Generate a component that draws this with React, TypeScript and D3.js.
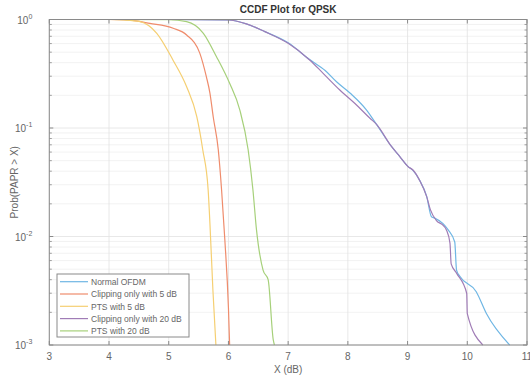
import { useRef, useEffect } from 'react'
import * as d3 from 'd3'

const W = 530
const H = 381
const MARGIN = { top: 19.5, right: 3, bottom: 36, left: 49.3 }

// curves (x in dB, y = probability)
const normalX = [4, 5, 6, 6.3, 6.61, 7.0, 7.36, 7.62, 7.81, 8.04, 8.31, 8.48, 8.73, 8.87, 9.01, 9.09, 9.2, 9.32, 9.4, 9.45, 9.59, 9.68, 9.79, 9.82, 9.875, 10.15, 10.32, 10.71]
const normalY = [1, 1, 0.989, 0.912, 0.773, 0.61, 0.427, 0.339, 0.267, 0.209, 0.147, 0.108, 0.0676, 0.0545, 0.044, 0.0407, 0.0331, 0.0234, 0.0152, 0.0148, 0.0132, 0.0115, 0.0089, 0.0049, 0.0043, 0.0031, 0.00195, 0.001]

const clip5X = [4, 4.3, 4.685, 5.075, 5.3, 5.52, 5.63, 5.69, 5.745, 5.83, 5.885, 5.94, 6.0, 6.02]
const clip5Y = [1, 0.99, 0.92, 0.83, 0.72, 0.49, 0.297, 0.21, 0.127, 0.063, 0.027, 0.0093, 0.0022, 0.001]

const pts5X = [4, 4.25, 4.52, 4.8, 5.07, 5.3, 5.47, 5.57, 5.66, 5.69, 5.74, 5.79]
const pts5Y = [1, 0.99, 0.955, 0.746, 0.424, 0.24, 0.127, 0.063, 0.027, 0.0132, 0.0032, 0.001]

const clip20X = [4, 5, 6, 6.3, 6.61, 7.0, 7.36, 7.586, 7.865, 8.145, 8.37, 8.48, 8.73, 8.87, 9.01, 9.09, 9.2, 9.32, 9.38, 9.48, 9.6, 9.65, 9.71, 9.73, 9.82, 9.99, 10.0, 10.26]
const clip20Y = [1, 1, 0.989, 0.912, 0.773, 0.603, 0.424, 0.319, 0.224, 0.163, 0.123, 0.108, 0.0676, 0.0545, 0.044, 0.041, 0.0331, 0.0233, 0.0178, 0.0141, 0.0126, 0.0115, 0.0087, 0.0056, 0.0046, 0.003, 0.00195, 0.001]

const pts20X = [4, 5.0, 5.3, 5.58, 5.8, 6.02, 6.19, 6.33, 6.41, 6.47, 6.58, 6.665, 6.75, 6.77]
const pts20Y = [1, 0.995, 0.955, 0.746, 0.454, 0.258, 0.147, 0.063, 0.027, 0.0115, 0.0049, 0.004, 0.00112, 0.001]

const seriesNames = ['Normal OFDM', 'Clipping only with 5 dB', 'PTS with 5 dB', 'Clipping only with 20 dB', 'PTS with 20 dB']
const seriesColors = ['#6fb6e4', '#ef8c6c', '#f5cf72', '#a07cb6', '#a6d07a']
const seriesX = [normalX, clip5X, pts5X, clip20X, pts20X]
const seriesY = [normalY, clip5Y, pts5Y, clip20Y, pts20Y]

const xTicks = [3, 4, 5, 6, 7, 8, 9, 10, 11]
const yDecades = [0, -1, -2, -3]

const FONT = 'Liberation Sans, Arial, Helvetica, sans-serif'

export default function App() {
  const svgRef = useRef<SVGSVGElement>(null)

  useEffect(() => {
    if (!svgRef.current) return
    const iw = W - MARGIN.left - MARGIN.right
    const ih = H - MARGIN.top - MARGIN.bottom
    const x = d3.scaleLinear().domain([3, 11]).range([0, iw])
    const y = d3.scaleLog().domain([1e-3, 1]).range([ih, 0])

    const svg = d3.select(svgRef.current)
    svg.selectAll('*').remove()
    svg.append('rect').attr('width', W).attr('height', H).attr('fill', '#fff')

    const g = svg.append('g').attr('transform', `translate(${MARGIN.left},${MARGIN.top})`)

    // minor y grid
    const minor: number[] = []
    yDecades.slice(1).forEach(e => {
      for (let k = 2; k <= 9; k++) minor.push(k * Math.pow(10, e))
    })
    g.selectAll('.ygm').data(minor).join('line')
      .attr('x1', 0).attr('x2', iw)
      .attr('y1', d => y(d)).attr('y2', d => y(d))
      .attr('stroke', '#efefef').attr('stroke-width', 0.8)

    // major grid
    g.selectAll('.xg').data(xTicks).join('line')
      .attr('x1', d => x(d)).attr('x2', d => x(d))
      .attr('y1', 0).attr('y2', ih)
      .attr('stroke', '#e2e2e2').attr('stroke-width', 0.8)
    g.selectAll('.yg').data(yDecades).join('line')
      .attr('x1', 0).attr('x2', iw)
      .attr('y1', d => y(Math.pow(10, d))).attr('y2', d => y(Math.pow(10, d)))
      .attr('stroke', '#e2e2e2').attr('stroke-width', 0.8)

    // curves
    const line = d3.line<[number, number]>().x(d => x(d[0])).y(d => y(d[1])).curve(d3.curveMonotoneX)
    seriesX.forEach((xs, i) => {
      const pts = xs.map((v, j) => [v, seriesY[i][j]] as [number, number])
      g.append('path').datum(pts).attr('d', line)
        .attr('fill', 'none').attr('stroke', seriesColors[i]).attr('stroke-width', 1.2)
    })

    // box and ticks
    const axisColor = '#8a8a8a'
    g.append('rect').attr('width', iw).attr('height', ih)
      .attr('fill', 'none').attr('stroke', axisColor).attr('stroke-width', 1)
    xTicks.forEach(t => {
      g.append('line').attr('x1', x(t)).attr('x2', x(t)).attr('y1', ih).attr('y2', ih - 4).attr('stroke', axisColor)
      g.append('line').attr('x1', x(t)).attr('x2', x(t)).attr('y1', 0).attr('y2', 4).attr('stroke', axisColor)
    })
    yDecades.forEach(e => {
      const yy = y(Math.pow(10, e))
      g.append('line').attr('x1', 0).attr('x2', 4).attr('y1', yy).attr('y2', yy).attr('stroke', axisColor)
      g.append('line').attr('x1', iw).attr('x2', iw - 4).attr('y1', yy).attr('y2', yy).attr('stroke', axisColor)
    })
    minor.forEach(m => {
      const yy = y(m)
      g.append('line').attr('x1', 0).attr('x2', 2.5).attr('y1', yy).attr('y2', yy).attr('stroke', axisColor).attr('stroke-width', 0.8)
      g.append('line').attr('x1', iw).attr('x2', iw - 2.5).attr('y1', yy).attr('y2', yy).attr('stroke', axisColor).attr('stroke-width', 0.8)
    })

    // tick labels
    g.selectAll('.xl').data(xTicks).join('text')
      .attr('x', d => x(d)).attr('y', ih + 15)
      .attr('text-anchor', 'middle').attr('font-family', FONT).attr('font-size', 10).attr('fill', '#666')
      .text(d => d)
    yDecades.forEach(e => {
      const yy = y(Math.pow(10, e))
      const t = g.append('text').attr('x', -17).attr('y', yy + 4)
        .attr('text-anchor', 'end').attr('font-family', FONT).attr('font-size', 10).attr('fill', '#666')
      t.append('tspan').text('10')
      t.append('tspan').attr('dy', -5).attr('font-size', 7).text(String(e))
    })

    // labels
    svg.append('text').attr('x', MARGIN.left + iw / 2).attr('y', 13)
      .attr('text-anchor', 'middle').attr('font-family', FONT).attr('font-size', 10).attr('font-weight', 'bold').attr('fill', '#333')
      .text('CCDF Plot for QPSK')
    svg.append('text').attr('x', MARGIN.left + iw / 2).attr('y', H - 8)
      .attr('text-anchor', 'middle').attr('font-family', FONT).attr('font-size', 10).attr('fill', '#666')
      .text('X (dB)')
    svg.append('text')
      .attr('transform', `translate(18,${MARGIN.top + ih / 2}) rotate(-90)`)
      .attr('text-anchor', 'middle').attr('font-family', FONT).attr('font-size', 10).attr('fill', '#666')
      .text('Prob(PAPR > X)')

    // legend
    const lg = svg.append('g').attr('transform', 'translate(57,274)')
    lg.append('rect').attr('width', 132).attr('height', 63)
      .attr('fill', '#fff').attr('stroke', axisColor).attr('stroke-width', 1)
    seriesNames.forEach((name, i) => {
      const yy = 7.7 + i * 12.3
      lg.append('line').attr('x1', 3).attr('x2', 31).attr('y1', yy).attr('y2', yy)
        .attr('stroke', seriesColors[i]).attr('stroke-width', 1.2)
      lg.append('text').attr('x', 34).attr('y', yy + 3.2)
        .attr('font-family', FONT).attr('font-size', 8.5).attr('fill', '#666')
        .text(name)
    })
  }, [])

  return (
    <svg ref={svgRef} width={W} height={H}
      style={{ position: 'absolute', left: 0, top: 0, display: 'block' }} />
  )
}
